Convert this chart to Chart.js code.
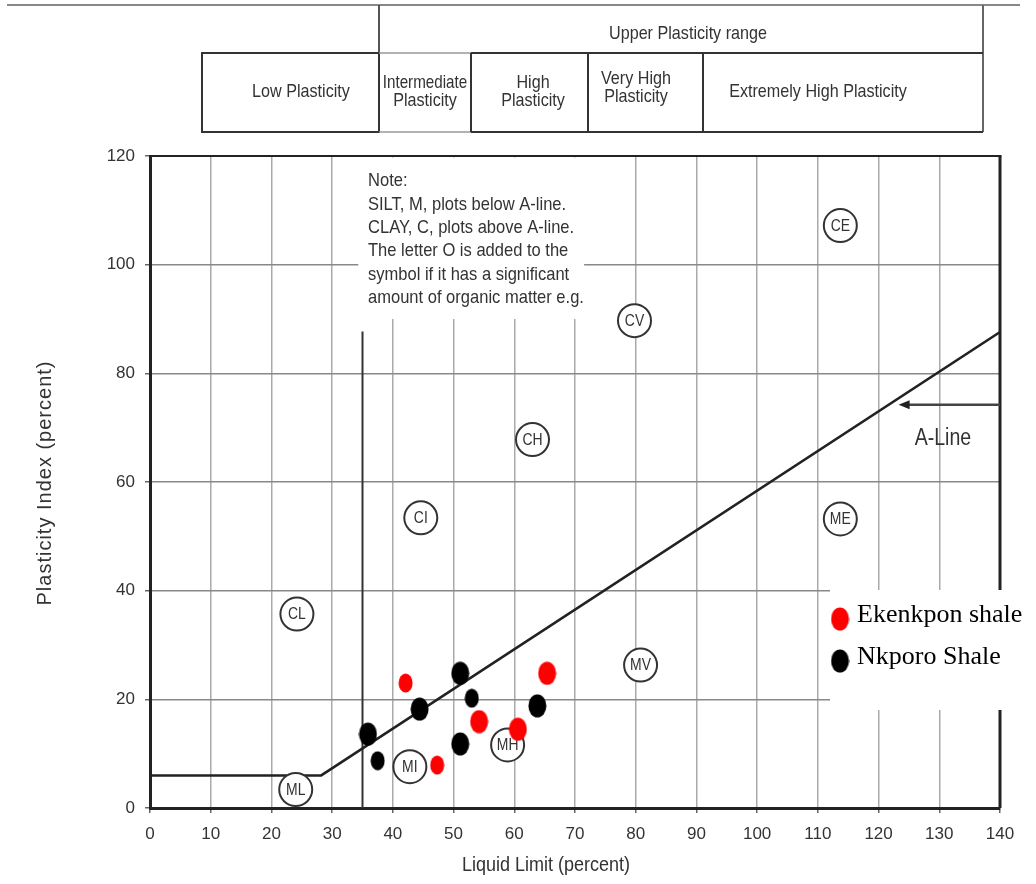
<!DOCTYPE html>
<html>
<head>
<meta charset="utf-8">
<title>Plasticity chart</title>
<script src="https://cdn.jsdelivr.net/npm/chart.js@4.4.0/dist/chart.umd.min.js"></script>
<style>
  html, body { margin: 0; padding: 0; background: #fff; }
</style>
</head>
<body>
<canvas id="myChart" width="1036" height="884"></canvas>
<script>
// Ekenkpon shale samples (liquid limit, plasticity index)
const ekenkponLL = [42.1, 47.3, 54.2, 60.6, 65.4];
const ekenkponPI = [23.0, 7.9, 15.9, 14.5, 24.8];

// Nkporo shale samples
const nkporoLL = [35.9, 37.5, 44.4, 51.1, 51.1, 53.0, 63.8];
const nkporoPI = [13.6, 8.7, 18.2, 24.8, 11.8, 20.2, 18.8];

// soil group symbols printed on the chart
const groupNames = ["CL", "ML", "MI", "MH", "CI", "CH", "CV", "MV", "CE", "ME"];
const groupLL = [24.2, 24.0, 42.8, 58.9, 44.6, 63.0, 79.8, 80.8, 113.7, 113.7];
const groupPI = [35.7, 3.4, 7.6, 11.6, 53.4, 67.8, 89.7, 26.3, 107.2, 53.2];

// A-line and the LL = 35 boundary
const aLineLL = [0, 28.2, 140];
const aLinePI = [6, 6, 87.6];
const boundLL = [35, 35];
const boundPI = [0, 87.7];

const SANS = "'Liberation Sans', Arial, sans-serif";

function pts(xs, ys) {
    return xs.map((x, i) => ({ x: x, y: ys[i] }));
}

function dot(color, w, h) {
    const c = document.createElement('canvas');
    c.width = w;
    c.height = h;
    const g = c.getContext('2d');
    g.fillStyle = color;
    g.beginPath();
    g.ellipse(w / 2, h / 2, w / 2 - 0.5, h / 2 - 0.5, 0, 0, Math.PI * 2);
    g.fill();
    return c;
}

const redBig = dot('#ff0000', 19, 24);
const redSmall = dot('#ff0000', 15, 20);
const blackBig = dot('#000000', 19, 24);
const blackSmall = dot('#000000', 15, 20);

// the print uses a narrow sans face, so squeeze the text horizontally
function txt(ctx, s, x, y, size, color, align, squeeze) {
    ctx.save();
    ctx.translate(x, y);
    ctx.scale(squeeze || 0.85, 1);
    ctx.font = size + 'px ' + SANS;
    ctx.fillStyle = color || '#333';
    ctx.textAlign = align || 'center';
    ctx.textBaseline = 'middle';
    ctx.fillText(s, 0, 0);
    ctx.restore();
}

function seg(ctx, x1, y1, x2, y2, color, w) {
    ctx.strokeStyle = color;
    ctx.lineWidth = w;
    ctx.beginPath();
    ctx.moveTo(x1, y1);
    ctx.lineTo(x2, y2);
    ctx.stroke();
}

const decor = {
    id: 'decor',
    beforeDraw(chart) {
        const ctx = chart.ctx;
        ctx.save();
        ctx.fillStyle = '#fff';
        ctx.fillRect(0, 0, chart.width, chart.height);

        // plasticity range table above the chart
        seg(ctx, 7, 5, 1020, 5, '#888', 2);
        seg(ctx, 379, 5, 379, 132, '#555', 2);
        seg(ctx, 983, 5, 983, 132, '#666', 2);
        ctx.strokeStyle = '#333';
        ctx.lineWidth = 2;
        ctx.strokeRect(202, 53, 177, 79);
        seg(ctx, 379, 53, 471, 53, '#999', 1.5);
        seg(ctx, 379, 132, 471, 132, '#999', 1.5);
        seg(ctx, 471, 53, 983, 53, '#333', 2);
        seg(ctx, 471, 132, 983, 132, '#333', 2);
        [471, 588, 703].forEach(x => seg(ctx, x, 53, x, 132, '#333', 2));

        txt(ctx, 'Upper Plasticity range', 688, 34, 19);
        txt(ctx, 'Low Plasticity', 301, 92, 19);
        txt(ctx, 'Intermediate', 425, 83, 19, '#333', 'center', 0.8);
        txt(ctx, 'Plasticity', 425, 101, 19);
        txt(ctx, 'High', 533, 83, 19);
        txt(ctx, 'Plasticity', 533, 101, 19);
        txt(ctx, 'Very High', 636, 79, 19);
        txt(ctx, 'Plasticity', 636, 97, 19);
        txt(ctx, 'Extremely High Plasticity', 818, 92, 19);

        // x axis title, set a little left of the axis centre as in the print
        txt(ctx, 'Liquid Limit (percent)', 546, 865, 20, '#333', 'center', 0.9);

        // y axis title, spaced out like the original print
        ctx.translate(45, 483);
        ctx.rotate(-Math.PI / 2);
        ctx.letterSpacing = '1px';
        ctx.font = '20px ' + SANS;
        ctx.fillStyle = '#333';
        ctx.textAlign = 'center';
        ctx.textBaseline = 'middle';
        ctx.fillText('Plasticity Index (percent)', 0, 0);
        ctx.restore();
    },
    beforeDatasetsDraw(chart) {
        const ctx = chart.ctx;
        const a = chart.chartArea;
        const xs = chart.scales.x;
        const ys = chart.scales.y;
        ctx.save();

        // top and right frame
        seg(ctx, a.left, a.top, a.right + 1.5, a.top, '#222', 2);
        seg(ctx, a.right, a.top, a.right, a.bottom, '#222', 3);

        // note box
        ctx.fillStyle = '#fff';
        ctx.fillRect(xs.getPixelForValue(34.3), a.top + 1.5, xs.getPixelForValue(71.5) - xs.getPixelForValue(34.3), ys.getPixelForValue(90) - a.top - 1.5);
        const note = ['Note:', 'SILT, M, plots below A-line.', 'CLAY, C, plots above A-line.',
            'The letter O is added to the', 'symbol if it has a significant', 'amount of organic matter e.g.'];
        note.forEach((s, i) => txt(ctx, s, 368, 181 + i * 23.4, 19, '#333', 'left', 0.87));

        // A-line arrow and label
        const ay = ys.getPixelForValue(74.2);
        const ax = xs.getPixelForValue(123.3);
        seg(ctx, xs.getPixelForValue(140), ay, ax + 8, ay, '#444', 2.5);
        ctx.fillStyle = '#222';
        ctx.beginPath();
        ctx.moveTo(ax, ay);
        ctx.lineTo(ax + 11, ay - 4.5);
        ctx.lineTo(ax + 11, ay + 4.5);
        ctx.closePath();
        ctx.fill();
        txt(ctx, 'A-Line', xs.getPixelForValue(130.6), ys.getPixelForValue(68), 23, '#333');

        // legend box
        ctx.fillStyle = '#fff';
        ctx.fillRect(830, 590, chart.width - 830, 120);
        ctx.restore();
    },
    afterDatasetDraw(chart, args) {
        if (args.meta.label !== 'groups') return;
        const ctx = chart.ctx;
        args.meta.data.forEach((el, i) => {
            txt(ctx, groupNames[i], el.x, el.y + 0.5, 17, '#333', 'center', 0.82);
        });
    },
    afterDraw(chart) {
        const ctx = chart.ctx;
        ctx.save();
        const sets = chart.data.datasets.slice(0, 2);
        sets.forEach((d, i) => {
            const img = i === 0 ? redBig : blackBig;
            const cy = 619 + i * 42;
            ctx.drawImage(img, 840 - img.width / 2, cy - img.height / 2);
            ctx.font = '26px "Liberation Serif", "Times New Roman", serif';
            ctx.fillStyle = '#000';
            ctx.textAlign = 'left';
            ctx.textBaseline = 'middle';
            ctx.fillText(d.label, 857, cy - 4);
        });
        ctx.restore();
    }
};

const ctx = document.getElementById('myChart');
new Chart(ctx, {
    type: 'scatter',
    data: {
        datasets: [
            {
                label: 'Ekenkpon shale',
                data: pts(ekenkponLL, ekenkponPI),
                pointStyle: [redSmall, redSmall, redBig, redBig, redBig],
                pointRadius: 10,
                order: 0
            },
            {
                label: 'Nkporo Shale',
                data: pts(nkporoLL, nkporoPI),
                pointStyle: [blackBig, blackSmall, blackBig, blackBig, blackBig, blackSmall, blackBig],
                pointRadius: 10,
                order: 1
            },
            {
                label: 'groups',
                data: pts(groupLL, groupPI),
                pointStyle: 'circle',
                pointRadius: 16.5,
                backgroundColor: '#fff',
                borderColor: '#333',
                borderWidth: 2,
                order: 2
            },
            {
                label: 'A-line',
                data: pts(aLineLL, aLinePI),
                showLine: true,
                pointRadius: 0,
                borderColor: '#222',
                borderWidth: 2.5,
                order: 3
            },
            {
                label: 'LL 35',
                data: pts(boundLL, boundPI),
                showLine: true,
                pointRadius: 0,
                borderColor: '#333',
                borderWidth: 2,
                order: 4
            }
        ]
    },
    options: {
        responsive: false,
        animation: false,
        layout: { padding: { top: 156, right: 36, left: 0, bottom: 0 } },
        plugins: {
            legend: { display: false },
            tooltip: { enabled: false }
        },
        scales: {
            x: {
                type: 'linear',
                min: 0,
                max: 140,
                ticks: { stepSize: 10, color: '#333', font: { family: SANS, size: 17 }, padding: 11 },
                grid: { color: '#aaa', lineWidth: 1.5, tickLength: 5, tickColor: '#666' },
                border: { color: '#222', width: 3 },
                afterFit(s) { s.height = 76; }
            },
            y: {
                type: 'linear',
                min: 0,
                max: 120,
                ticks: { stepSize: 20, color: '#333', font: { family: SANS, size: 17 }, padding: 10 },
                grid: { color: '#888', lineWidth: 1.5, tickLength: 5, tickColor: '#666' },
                border: { color: '#222', width: 3 },
                afterFit(s) { s.width = 150; }
            }
        }
    },
    plugins: [decor]
});
</script>
</body>
</html>
